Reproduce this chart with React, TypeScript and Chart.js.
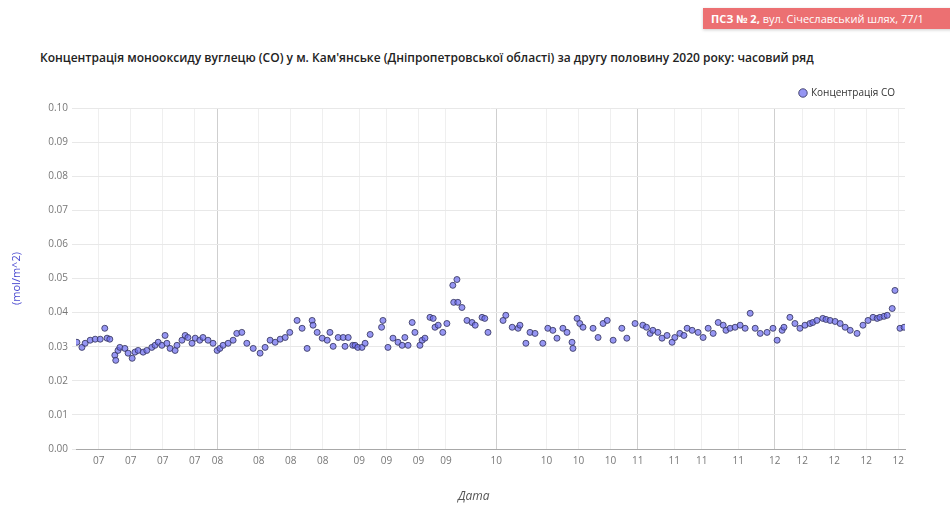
import React, { useEffect, useRef } from "react";
import { Chart, registerables } from "chart.js";

Chart.register(...registerables);

const titleText =
  "Концентрація монооксиду вуглецю (CO) у м. Кам'янське (Дніпропетровської області) за другу половину 2020 року: часовий ряд";
const badgeBold = "ПСЗ № 2,";
const badgeText = " вул. Січеславський шлях, 77/1";
const seriesLabel = "Концентрація CO";
const yTitle = "(mol/m^2)";
const xTitle = "Дата";

// time of each measurement, in days from 1 July 2020
const days = [
  0.2, 1.3, 2.0, 3.1, 4.2, 5.3, 6.3, 6.8, 7.4, 8.5, 8.7, 9.2, 9.6, 10.7, 11.4, 12.3, 12.9, 13.6, 14.7, 15.5,
  16.6, 17.3, 18.0, 18.8, 19.5, 19.9, 20.6, 21.7, 22.1, 23.2, 23.9, 24.5, 25.4, 26.1, 27.1, 27.8, 28.9, 30.0,
  30.9, 31.5, 32.2, 33.3, 34.4, 35.2, 36.3, 37.4, 38.8, 40.3, 41.4, 42.5, 43.6, 44.7, 45.8, 46.8, 48.4, 49.5,
  50.6, 51.7, 51.9, 52.8, 53.9, 55.0, 55.6, 56.3, 57.4, 58.5, 58.9, 59.6, 60.6, 61.1, 61.7, 62.6, 63.3, 64.4,
  66.9, 67.2, 68.3, 69.4, 70.5, 71.4, 72.0, 72.7, 73.6, 74.2, 75.3, 75.8, 76.4, 77.5, 78.2, 78.6, 79.3, 80.3,
  81.2, 82.5, 82.7, 83.4, 83.6, 84.5, 85.6, 86.7, 87.4, 88.9, 89.5, 90.2, 93.5, 94.1, 95.5, 96.8, 97.2, 98.5,
  99.4, 100.5, 102.2, 103.3, 104.4, 105.3, 106.6, 107.5, 108.6, 108.8, 109.7, 110.3, 111.0, 113.2, 114.3, 115.4,
  116.3, 117.6, 119.5, 120.6, 122.4, 124.1, 124.9, 125.7, 126.3, 127.4, 128.3, 129.4, 130.5, 131.1, 132.2, 133.1,
  133.8, 134.9, 136.2, 137.3, 138.4, 139.5, 140.6, 141.7, 142.3, 143.2, 144.3, 145.4, 146.5, 147.6, 148.7, 149.8,
  151.3, 152.6, 153.5, 154.6, 155.0, 156.3, 157.4, 158.5, 159.6, 160.7, 161.3, 162.2, 163.5, 164.2, 165.1, 166.2,
  167.3, 168.4, 169.5, 171.0, 172.3, 173.4, 174.5, 175.4, 176.0, 176.9, 177.6, 178.7, 179.3, 180.4, 181.3,
];

const coValues = [
  0.0313, 0.0298, 0.031, 0.0319, 0.0322, 0.0322, 0.0354, 0.0325, 0.0322, 0.0275, 0.026, 0.0289, 0.0298, 0.0295,
  0.0281, 0.0266, 0.0284, 0.0289, 0.0284, 0.0289, 0.0298, 0.0304, 0.0313, 0.0304, 0.0333, 0.031, 0.0295, 0.0289,
  0.0304, 0.0319, 0.0333, 0.0327, 0.031, 0.0325, 0.0319, 0.0327, 0.0319, 0.031, 0.0289, 0.0295, 0.0304, 0.031,
  0.0319, 0.0339, 0.0342, 0.031, 0.0295, 0.0281, 0.0298, 0.0319, 0.0313, 0.0322, 0.0327, 0.0342, 0.0377, 0.0354,
  0.0295, 0.0377, 0.0363, 0.0342, 0.0325, 0.0319, 0.0342, 0.0301, 0.0327, 0.0327, 0.0301, 0.0327, 0.0304, 0.0304,
  0.0298, 0.0298, 0.031, 0.0336, 0.0357, 0.0377, 0.0298, 0.0325, 0.0313, 0.0304, 0.0327, 0.0304, 0.0371, 0.0342,
  0.0304, 0.0319, 0.0325, 0.0386, 0.0383, 0.0357, 0.0363, 0.0342, 0.0368, 0.048, 0.043, 0.0497, 0.043, 0.0415,
  0.0377, 0.0371, 0.0363, 0.0386, 0.0383, 0.0342, 0.0377, 0.0392, 0.0357, 0.0354, 0.0363, 0.031, 0.0342, 0.0339,
  0.031, 0.0354, 0.0348, 0.0325, 0.0354, 0.0342, 0.0313, 0.0295, 0.0383, 0.0368, 0.0357, 0.0354, 0.0327, 0.0368,
  0.0377, 0.0319, 0.0354, 0.0325, 0.0368, 0.0363, 0.0357, 0.0339, 0.0348, 0.0342, 0.0325, 0.0333, 0.0313, 0.0327,
  0.0339, 0.0333, 0.0354, 0.0348, 0.0342, 0.0327, 0.0354, 0.0339, 0.0371, 0.0363, 0.0348, 0.0354, 0.0357, 0.0363,
  0.0354, 0.0398, 0.0354, 0.0339, 0.0342, 0.0354, 0.0319, 0.0348, 0.0357, 0.0386, 0.0368, 0.0354, 0.0363, 0.0368,
  0.0371, 0.0377, 0.0383, 0.038, 0.0377, 0.0374, 0.0368, 0.0357, 0.0348, 0.0339, 0.0363, 0.0377, 0.0386, 0.0383,
  0.0386, 0.0389, 0.0392, 0.0412, 0.0465, 0.0354, 0.0357,
];

const tickDays = [5, 12, 19, 26, 31, 40, 47, 54, 62, 68, 75, 81, 92, 103, 110, 117, 123, 131, 137, 145, 153, 159, 166, 173, 180];
const tickLabels = ["07", "07", "07", "07", "08", "08", "08", "08", "09", "09", "09", "09", "10", "10", "10", "10", "11", "11", "11", "11", "12", "12", "12", "12", "12"];
const majorDays = [31, 92, 123, 153];

const yMin = 0;
const yMax = 0.1;
const yStep = 0.01;
const xMin = 0;
const xMax = 181.5;

export default function App() {
  const canvasRef = useRef<HTMLCanvasElement | null>(null);

  useEffect(() => {
    document.body.style.margin = "0";
    const canvas = canvasRef.current;
    if (!canvas) return;
    const points = days.map((d, i) => ({ x: d, y: coValues[i] }));
    const chart = new Chart(canvas, {
      type: "scatter",
      data: {
        datasets: [
          {
            label: seriesLabel,
            data: points,
            pointStyle: "circle",
            pointRadius: 3,
            pointBorderWidth: 1,
            backgroundColor: "rgba(110,110,238,0.72)",
            borderColor: "rgba(55,55,95,0.85)",
          },
        ],
      },
      options: {
        animation: false,
        responsive: true,
        maintainAspectRatio: false,
        layout: { padding: { top: 78, right: 45, bottom: 0, left: 0 } },
        plugins: {
          legend: {
            display: true,
            position: "top",
            align: "end",
            labels: {
              usePointStyle: true,
              boxWidth: 6,
              boxHeight: 6,
              padding: 10,
              color: "#333",
              font: { size: 10, family: "'Open Sans', sans-serif" },
            },
          },
          tooltip: { enabled: false },
        },
        scales: {
          x: {
            type: "linear",
            min: xMin,
            max: xMax,
            afterBuildTicks: (scale: any) => {
              scale.ticks = tickDays.map((v) => ({ value: v }));
            },
            afterFit: (scale: any) => {
              scale.height = 65;
            },
            ticks: {
              autoSkip: false,
              maxRotation: 0,
              padding: 6,
              color: "#777",
              font: { size: 10, family: "'Open Sans', sans-serif" },
              callback: (value: any) => {
                const i = tickDays.indexOf(Number(value));
                return i >= 0 ? tickLabels[i] : "";
              },
            },
            grid: {
              drawTicks: false,
              color: (ctx: any) =>
                ctx.tick && majorDays.includes(ctx.tick.value) ? "#cfcfcf" : "#efefef",
            },
            border: { display: true, color: "#a8a8a8" },
            title: { display: false, text: xTitle },
          },
          y: {
            min: yMin,
            max: yMax,
            afterFit: (scale: any) => {
              scale.width = 76;
            },
            ticks: {
              stepSize: yStep,
              padding: 4,
              color: "#777",
              font: { size: 10, family: "'Open Sans', sans-serif" },
              callback: (value: any) => Number(value).toFixed(2),
            },
            grid: { color: "#e8e8e8", tickLength: 4 },
            border: { display: false },
            title: {
              display: true,
              text: yTitle,
              color: "#4a4ad0",
              padding: { top: 10, bottom: 0 },
              font: { size: 11, family: "'Open Sans', sans-serif" },
            },
          },
        },
      },
    });
    return () => chart.destroy();
  }, []);

  return (
    <div
      style={{
        position: "fixed",
        left: 0,
        top: 0,
        width: 950,
        height: 514,
        background: "#fff",
        overflow: "hidden",
        fontFamily: "'Open Sans', sans-serif",
      }}
    >
      <div
        style={{
          position: "absolute",
          left: 703,
          top: 8,
          width: 260,
          height: 21,
          background: "#ec7072",
          color: "#fff",
          fontSize: 11,
          lineHeight: "21px",
          paddingLeft: 8,
          whiteSpace: "nowrap",
          overflow: "hidden",
          boxShadow: "0 1px 3px rgba(0,0,0,0.2)",
        }}
      >
        <b>{badgeBold}</b>
        {badgeText}
      </div>
      <div
        style={{
          position: "absolute",
          left: 40,
          top: 49,
          fontSize: 12,
          fontWeight: 600,
          color: "#222",
          whiteSpace: "nowrap",
        }}
      >
        {titleText}
      </div>
      <canvas ref={canvasRef} style={{ position: "absolute", left: 0, top: 0, width: 950, height: 514 }} />
      <div
        style={{
          position: "absolute",
          left: 458,
          top: 487,
          fontSize: 12,
          fontStyle: "italic",
          color: "#555",
        }}
      >
        {xTitle}
      </div>
    </div>
  );
}
